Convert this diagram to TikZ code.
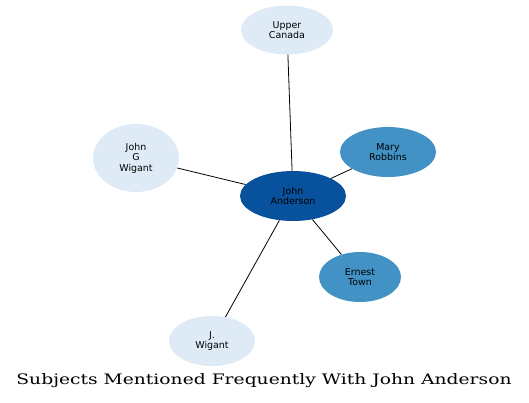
\documentclass[tikz,border=0pt]{standalone}
\usepackage{fontspec}
\setmainfont{DejaVu Sans}
\newfontfamily\titlefont{DejaVu Serif}
\usetikzlibrary{shapes.geometric}
\definecolor{lightblue}{RGB}{222,235,247}
\definecolor{midblue}{RGB}{66,146,198}
\definecolor{darkblue}{RGB}{8,81,156}
\tikzset{
  ent/.style={ellipse, inner sep=0pt, align=center,
    font=\fontsize{9.5}{10.5}\selectfont},
  light/.style={ent, fill=lightblue},
  mid/.style={ent, fill=midblue},
  dark/.style={ent, fill=darkblue},
  link/.style={draw=black, line width=0.8bp}
}
\begin{document}
\begin{tikzpicture}[x=1bp,y=-1bp]
\useasboundingbox (0,0) rectangle (529,402);
\node[light, minimum width=92bp, minimum height=49bp] (uc) at (287,30) {Upper\\Canada};
\node[light, minimum width=86bp, minimum height=68bp] (jgw) at (136,158) {John\\G\\Wigant};
\node[mid, minimum width=96bp, minimum height=50bp] (mr) at (388,152) {Mary\\Robbins};
\node[dark, minimum width=106bp, minimum height=50bp] (ja) at (293,196) {John\\Anderson};
\node[mid, minimum width=82bp, minimum height=50bp] (et) at (360,277) {Ernest\\Town};
\node[light, minimum width=86bp, minimum height=50bp] (jw) at (212,341) {J.\\Wigant};
\draw[link] (ja) -- (uc);
\draw[link] (ja) -- (jgw);
\draw[link] (ja) -- (mr);
\draw[link] (ja) -- (et);
\draw[link] (ja) -- (jw);
\node[inner sep=0pt, font=\titlefont\fontsize{14.5}{16}\selectfont] (title) at (264,381) {\scalebox{1.295}[1]{Subjects Mentioned Frequently With John Anderson}};
\end{tikzpicture}
\end{document}
